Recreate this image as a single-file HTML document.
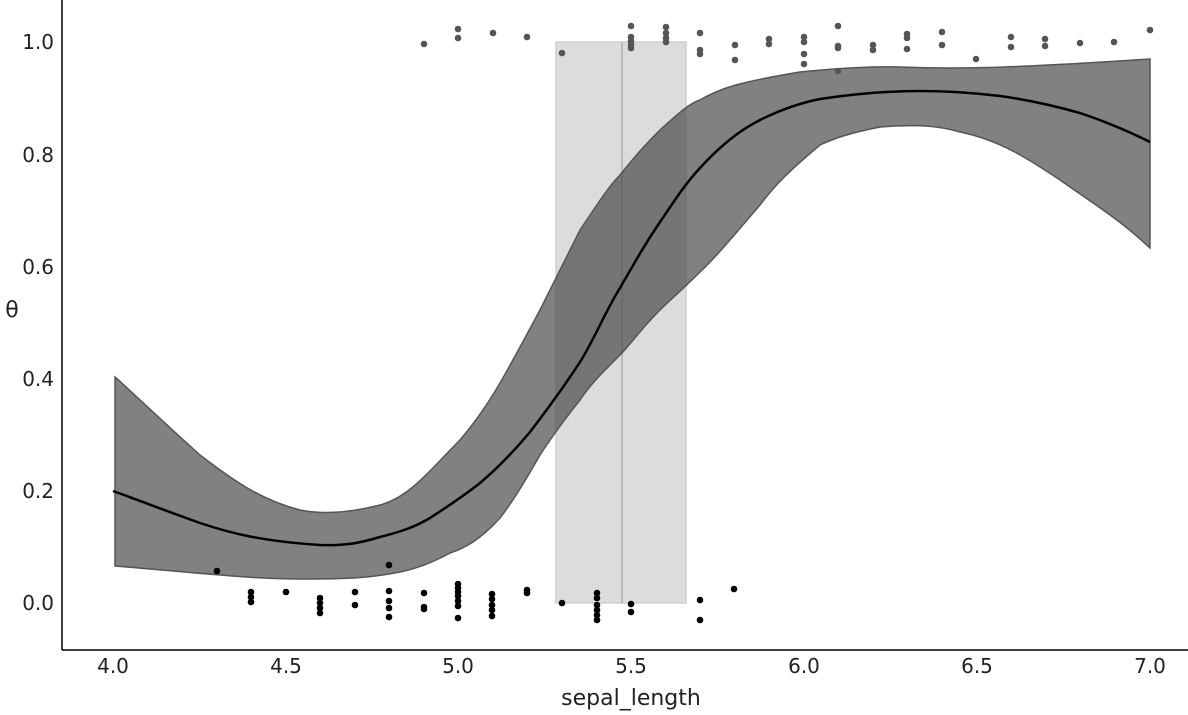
<!DOCTYPE html><html><head><style>body{margin:0;background:#fff}svg{display:block;font-family:"DejaVu Sans","Liberation Sans",sans-serif}</style></head><body>
<svg width="1188" height="715" viewBox="0 0 1188 715">
<rect x="556" y="42" width="130" height="561" fill="#dcdcdc" stroke="#cfcfcf" stroke-width="1.5"/>
<line x1="622" y1="42" x2="622" y2="603" stroke="#bcbcbc" stroke-width="2"/>
<path d="M115,377 C130,390 150,410 200,455 C230,478 260,500 300,510 C320,514 345,514 380,505 C410,497 430,470 460,440 C490,405 505,375 540,310 C560,270 570,250 580,230 C600,200 610,185 620,175 C640,150 650,140 660,130 C680,112 690,103 700,100 C720,88 740,82 800,72 C840,68 880,66 900,67 C950,69 1000,69 1150,59 L1150,248 C1120,220 1100,208 1060,180 C1030,160 1000,140 960,132 C940,126 920,124 880,127 C850,133 835,138 820,145 C790,170 775,185 760,205 C730,240 715,258 700,272 C680,292 670,300 660,310 C640,330 630,345 620,355 C600,375 590,385 580,400 C560,425 550,440 540,455 C520,490 510,505 500,518 C480,540 465,548 450,553 C430,564 415,569 400,572 C370,578 350,579 300,579 C250,579 200,573 115,566 Z" fill="#404040" fill-opacity="0.66" stroke="#555" stroke-width="1.5"/>
<path d="M113,491 C130,497 150,505 200,523 C230,533 260,541 320,545 C345,546 360,543 380,537 C400,532 415,527 430,518 C450,505 465,495 480,483 C500,466 515,450 530,432 C550,406 565,385 580,362 C595,338 605,312 620,288 C635,262 645,244 660,222 C675,200 685,184 700,168 C720,146 740,130 760,120 C780,110 800,103 820,99 C860,93 890,91 920,91 C950,91 975,93 1000,96 C1030,100 1055,106 1080,113 C1110,123 1130,132 1150,142" fill="none" stroke="#000" stroke-width="2.5"/>
<g fill="#000">
<circle cx="217" cy="571" r="3.3"/><circle cx="389" cy="565" r="3.3"/>
<circle cx="251" cy="592" r="3.3"/><circle cx="251" cy="597" r="3.3"/><circle cx="251" cy="602" r="3.3"/>
<circle cx="286" cy="592" r="3.3"/>
<circle cx="320" cy="598" r="3.3"/><circle cx="320" cy="603" r="3.3"/><circle cx="320" cy="608" r="3.3"/><circle cx="320" cy="613" r="3.3"/>
<circle cx="355" cy="592" r="3.3"/><circle cx="355" cy="605" r="3.3"/>
<circle cx="389" cy="591" r="3.3"/><circle cx="389" cy="601" r="3.3"/><circle cx="389" cy="608" r="3.3"/><circle cx="389" cy="617" r="3.3"/>
<circle cx="424" cy="593" r="3.3"/><circle cx="424" cy="607" r="3.3"/><circle cx="424" cy="609" r="3.3"/>
<circle cx="458" cy="584" r="3.3"/><circle cx="458" cy="588" r="3.3"/><circle cx="458" cy="592" r="3.3"/><circle cx="458" cy="596" r="3.3"/><circle cx="458" cy="601" r="3.3"/><circle cx="458" cy="606" r="3.3"/><circle cx="458" cy="618" r="3.3"/>
<circle cx="492" cy="594" r="3.3"/><circle cx="492" cy="599" r="3.3"/><circle cx="492" cy="605" r="3.3"/><circle cx="492" cy="610" r="3.3"/><circle cx="492" cy="616" r="3.3"/>
<circle cx="527" cy="590" r="3.3"/><circle cx="527" cy="593" r="3.3"/>
<circle cx="562" cy="603" r="3.3"/>
<circle cx="597" cy="593" r="3.3"/><circle cx="597" cy="598" r="3.3"/><circle cx="597" cy="605" r="3.3"/><circle cx="597" cy="610" r="3.3"/><circle cx="597" cy="615" r="3.3"/><circle cx="597" cy="620" r="3.3"/>
<circle cx="631" cy="604" r="3.3"/><circle cx="631" cy="612" r="3.3"/>
<circle cx="700" cy="600" r="3.3"/><circle cx="700" cy="620" r="3.3"/>
<circle cx="734" cy="589" r="3.3"/>
</g>
<g fill="#555">
<circle cx="424" cy="44" r="3.3"/><circle cx="458" cy="29" r="3.3"/><circle cx="458" cy="38" r="3.3"/><circle cx="493" cy="33" r="3.3"/><circle cx="527" cy="37" r="3.3"/><circle cx="562" cy="53" r="3.3"/>
<circle cx="631" cy="26" r="3.3"/><circle cx="631" cy="37" r="3.3"/><circle cx="631" cy="41" r="3.3"/><circle cx="631" cy="45" r="3.3"/><circle cx="631" cy="48" r="3.3"/>
<circle cx="666" cy="27" r="3.3"/><circle cx="666" cy="33" r="3.3"/><circle cx="666" cy="38" r="3.3"/><circle cx="666" cy="42" r="3.3"/>
<circle cx="700" cy="33" r="3.3"/><circle cx="700" cy="50" r="3.3"/><circle cx="700" cy="54" r="3.3"/>
<circle cx="735" cy="45" r="3.3"/><circle cx="735" cy="60" r="3.3"/>
<circle cx="769" cy="39" r="3.3"/><circle cx="769" cy="44" r="3.3"/>
<circle cx="804" cy="37" r="3.3"/><circle cx="804" cy="42" r="3.3"/><circle cx="804" cy="54" r="3.3"/><circle cx="804" cy="64" r="3.3"/>
<circle cx="838" cy="26" r="3.3"/><circle cx="838" cy="46" r="3.3"/><circle cx="838" cy="48" r="3.3"/><circle cx="838" cy="71" r="3.3"/>
<circle cx="873" cy="45" r="3.3"/><circle cx="873" cy="50" r="3.3"/>
<circle cx="907" cy="34" r="3.3"/><circle cx="907" cy="38" r="3.3"/><circle cx="907" cy="49" r="3.3"/>
<circle cx="942" cy="32" r="3.3"/><circle cx="942" cy="45" r="3.3"/>
<circle cx="976" cy="59" r="3.3"/>
<circle cx="1011" cy="37" r="3.3"/><circle cx="1011" cy="47" r="3.3"/>
<circle cx="1045" cy="39" r="3.3"/><circle cx="1045" cy="46" r="3.3"/>
<circle cx="1080" cy="43" r="3.3"/><circle cx="1114" cy="42" r="3.3"/><circle cx="1150" cy="30" r="3.3"/>
</g>
<line x1="62" y1="0" x2="62" y2="650" stroke="#000" stroke-width="1.5"/>
<line x1="62" y1="650" x2="1188" y2="650" stroke="#000" stroke-width="1.5"/>
<g font-size="20" fill="#222" text-anchor="end">
<text x="54" y="49">1.0</text><text x="54" y="162">0.8</text><text x="54" y="274">0.6</text><text x="54" y="386">0.4</text><text x="54" y="498">0.2</text><text x="54" y="610">0.0</text>
</g>
<g font-size="20" fill="#222" text-anchor="middle">
<text x="113" y="673">4.0</text><text x="286" y="673">4.5</text><text x="458" y="673">5.0</text><text x="631" y="673">5.5</text><text x="804" y="673">6.0</text><text x="977" y="673">6.5</text><text x="1150" y="673">7.0</text>
<text x="631" y="705" font-size="22">sepal_length</text>
<text x="12" y="317" font-size="22">θ</text>
</g>
</svg></body></html>
